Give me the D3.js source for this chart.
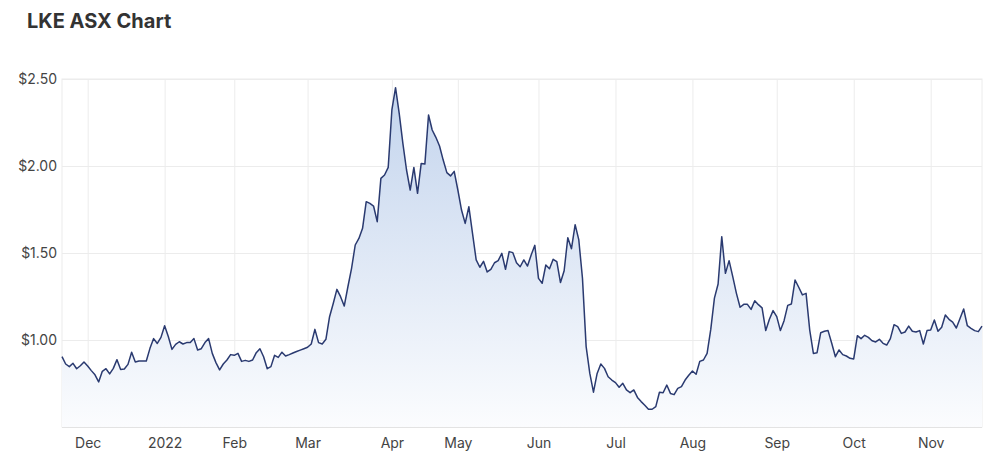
<!DOCTYPE html>
<html>
<head>
<meta charset="utf-8">
<script src="https://cdn.jsdelivr.net/npm/d3@7"></script>
<style>
  body { margin: 0; background: #fff; font-family: Inter, "Noto Sans", sans-serif; }
  .tick text { fill: #444; font-size: 14px; font-family: Inter, "Noto Sans", sans-serif; }
</style>
</head>
<body>
<div id="chart"></div>
<script>
// constantes
const width = 1000
const height = 463
const margin = { top: 79, bottom: 36, left: 62, right: 18 }
const innerW = width - margin.left - margin.right
const innerH = height - margin.top - margin.bottom

// datos: cierre diario (dias de negociacion, 22 nov 2021 - 18 nov 2022)
const prices = [
  0.904, 0.862, 0.847, 0.866, 0.835, 0.852, 0.874, 0.851, 0.824, 0.800,
  0.759, 0.820, 0.835, 0.805, 0.837, 0.887, 0.830, 0.833, 0.860, 0.930,
  0.874, 0.879, 0.879, 0.879, 0.952, 1.008, 0.980, 1.015, 1.082, 1.020,
  0.946, 0.975, 0.990, 0.977, 0.985, 0.985, 1.008, 0.943, 0.950, 0.985,
  1.008, 0.923, 0.870, 0.828, 0.862, 0.885, 0.916, 0.912, 0.923, 0.877,
  0.883, 0.877, 0.885, 0.927, 0.950, 0.904, 0.835, 0.847, 0.912, 0.900,
  0.930, 0.908, 0.916, 0.925, 0.934, 0.942, 0.950, 0.958, 0.977, 1.061,
  0.985, 0.977, 1.004, 1.134, 1.210, 1.291, 1.249, 1.195, 1.306, 1.412,
  1.546, 1.584, 1.642, 1.795, 1.785, 1.770, 1.680, 1.929, 1.948, 1.992,
  2.322, 2.450, 2.303, 2.130, 1.977, 1.862, 1.992, 1.843, 2.015, 2.011,
  2.293, 2.207, 2.165, 2.115, 2.034, 1.962, 1.943, 1.969, 1.862, 1.747,
  1.670, 1.766, 1.613, 1.460, 1.418, 1.452, 1.391, 1.406, 1.444, 1.456,
  1.498, 1.406, 1.508, 1.502, 1.444, 1.421, 1.460, 1.425, 1.489, 1.544,
  1.354, 1.326, 1.431, 1.410, 1.464, 1.450, 1.330, 1.398, 1.588, 1.525,
  1.663, 1.575, 1.354, 0.962, 0.808, 0.700, 0.808, 0.862, 0.837, 0.789,
  0.770, 0.755, 0.728, 0.751, 0.713, 0.697, 0.713, 0.670, 0.646, 0.625,
  0.602, 0.602, 0.617, 0.700, 0.697, 0.741, 0.693, 0.686, 0.722, 0.732,
  0.770, 0.797, 0.822, 0.803, 0.877, 0.885, 0.923, 1.061, 1.241, 1.322,
  1.594, 1.383, 1.456, 1.364, 1.268, 1.188, 1.205, 1.205, 1.176, 1.226,
  1.203, 1.185, 1.054, 1.119, 1.169, 1.134, 1.054, 1.111, 1.199, 1.207,
  1.345, 1.303, 1.259, 1.268, 1.057, 0.923, 0.927, 1.042, 1.050, 1.054,
  0.981, 0.904, 0.943, 0.916, 0.908, 0.895, 0.891, 1.025, 1.008, 1.027,
  1.015, 0.996, 0.989, 1.004, 0.981, 0.971, 1.008, 1.088, 1.077, 1.038,
  1.046, 1.080, 1.050, 1.046, 1.054, 0.977, 1.054, 1.057, 1.115, 1.050,
  1.073, 1.144, 1.119, 1.103, 1.069, 1.123, 1.178, 1.082, 1.067, 1.054,
  1.048, 1.080
]
// primer dia de negociacion de cada mes (indice) y su etiqueta
const monthIndex = [7, 28, 47, 67, 90, 108, 130, 151, 172, 195, 216, 237]
const monthLabels = ["Dec", "2022", "Feb", "Mar", "Apr", "May", "Jun", "Jul", "Aug", "Sep", "Oct", "Nov"]
const yTicks = [1.0, 1.5, 2.0, 2.5]

// svg y grupos
const svg = d3.select("#chart").append("svg").attr("width", width).attr("height", height)

svg.append("text")
  .attr("x", 27).attr("y", 28)
  .attr("font-size", 20).attr("font-weight", 700)
  .attr("fill", "#333")
  .text("LKE ASX Chart")

const defs = svg.append("defs")
const grad = defs.append("linearGradient").attr("id", "areaGrad")
  .attr("x1", 0).attr("y1", 0).attr("x2", 0).attr("y2", 1)
grad.append("stop").attr("offset", "0%").attr("stop-color", "#c3d4ed")
grad.append("stop").attr("offset", "100%").attr("stop-color", "#fbfcfe")

const g = svg.append("g").attr("transform", `translate(${margin.left}, ${margin.top})`)

// escalas
const x = d3.scaleLinear().domain([0, prices.length - 1]).range([0, innerW])
const y = d3.scaleLinear().domain([0.5, 2.5]).range([innerH, 0])

// ejes + rejilla
const xAxis = d3.axisBottom(x)
  .tickValues(monthIndex)
  .tickFormat((d, i) => monthLabels[i])
  .tickSize(-innerH)
  .tickPadding(8)
const yAxis = d3.axisLeft(y)
  .tickValues(yTicks)
  .tickFormat(d => "$" + d.toFixed(2))
  .tickSize(-innerW)
  .tickPadding(5)

const xAxisGroup = g.append("g").attr("transform", `translate(0, ${innerH})`).call(xAxis)
const yAxisGroup = g.append("g").call(yAxis)
xAxisGroup.select(".domain").remove()
yAxisGroup.select(".domain").remove()
xAxisGroup.selectAll(".tick line").attr("stroke", "#ececec")
yAxisGroup.selectAll(".tick line").attr("stroke", "#ececec")
xAxisGroup.selectAll(".tick text").attr("dy", "0.9em")

// borde del area de trazado
g.append("rect")
  .attr("width", innerW).attr("height", innerH)
  .attr("fill", "none").attr("stroke", "#ececec")
g.append("line")
  .attr("x1", 0).attr("x2", innerW).attr("y1", innerH).attr("y2", innerH)
  .attr("stroke", "#dcdcdc").attr("stroke-width", 1.5)

// area + linea
const area = d3.area().x((d, i) => x(i)).y0(innerH).y1(d => y(d))
const line = d3.line().x((d, i) => x(i)).y(d => y(d))

g.append("path").datum(prices)
  .attr("d", area)
  .attr("fill", "url(#areaGrad)")

g.append("path").datum(prices)
  .attr("d", line)
  .attr("fill", "none")
  .attr("stroke", "#2a3a70")
  .attr("stroke-width", 1.5)
  .attr("stroke-linejoin", "round")
</script>
</body>
</html>
